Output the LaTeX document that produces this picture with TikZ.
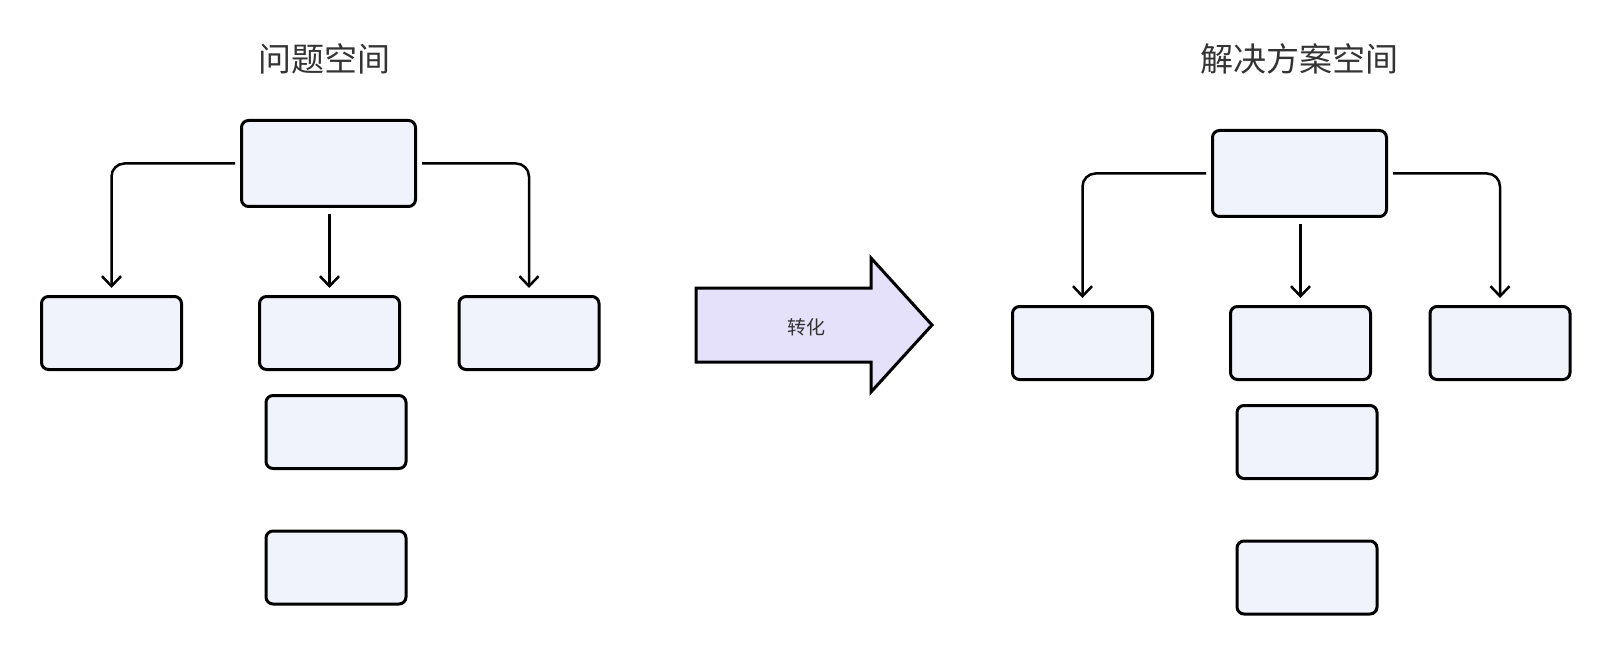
\documentclass[tikz,border=0pt]{standalone}
\usepackage{fontspec}
\newfontfamily\cjk{Noto Sans CJK SC}
\usetikzlibrary{arrows.meta}
\definecolor{boxfill}{HTML}{F0F3FB}
\definecolor{arrowfill}{HTML}{E6E1FA}
\definecolor{txt}{HTML}{333333}
\tikzset{
  box/.style={draw=black, fill=boxfill, line width=3pt, rounded corners=7pt, inner sep=0pt},
  topbox/.style={box, minimum width=174pt, minimum height=86pt},
  smallbox/.style={box, minimum width=140pt, minimum height=73pt},
  conn/.style={line width=2.5pt, -{Straight Barb[length=10pt,width=19pt,line width=2.5pt]}, rounded corners=13pt, shorten <=5pt, shorten >=7pt},
  title/.style={font=\cjk\fontsize{33}{38}\selectfont, text=txt},
}
\begin{document}
\begin{tikzpicture}[x=1pt,y=-1pt]
\useasboundingbox (0,0) rectangle (1608,660);
% Problem space
\node[title] (t1) at (324,59) {问题空间};
\node[topbox] (p0) at (328.5,163.5) {};
\node[smallbox] (p1) at (111.5,333) {};
\node[smallbox] (p2) at (329.5,333) {};
\node[smallbox] (p3) at (529,333) {};
\node[smallbox] (p4) at (336,432) {};
\node[smallbox] (p5) at (336,567.5) {};
\draw[conn] (p0.west) -| (p1.north);
\draw[conn] (p0.east) -| (p3.north);
\draw[conn, shorten <=6pt] (p0.south -| p2.north) -- (p2.north);
% Solution space
\node[title] (t2) at (1299,59) {解决方案空间};
\node[topbox] (s0) at (1299.5,173.5) {};
\node[smallbox] (s1) at (1082.5,343) {};
\node[smallbox] (s2) at (1300.5,343) {};
\node[smallbox] (s3) at (1500,343) {};
\node[smallbox] (s4) at (1307,442) {};
\node[smallbox] (s5) at (1307,577.5) {};
\draw[conn] (s0.west) -| (s1.north);
\draw[conn] (s0.east) -| (s3.north);
\draw[conn, shorten <=6pt] (s0.south -| s2.north) -- (s2.north);
% Transform arrow
\draw[line width=3pt, fill=arrowfill, line join=miter]
  (696,288) -- (871,288) -- (871,258) -- (932,325) -- (871,392) -- (871,362) -- (696,362) -- cycle;
\node[font=\cjk\fontsize{19}{23}\selectfont, text=txt] (lbl) at (806,327) {转化};
\end{tikzpicture}
\end{document}
